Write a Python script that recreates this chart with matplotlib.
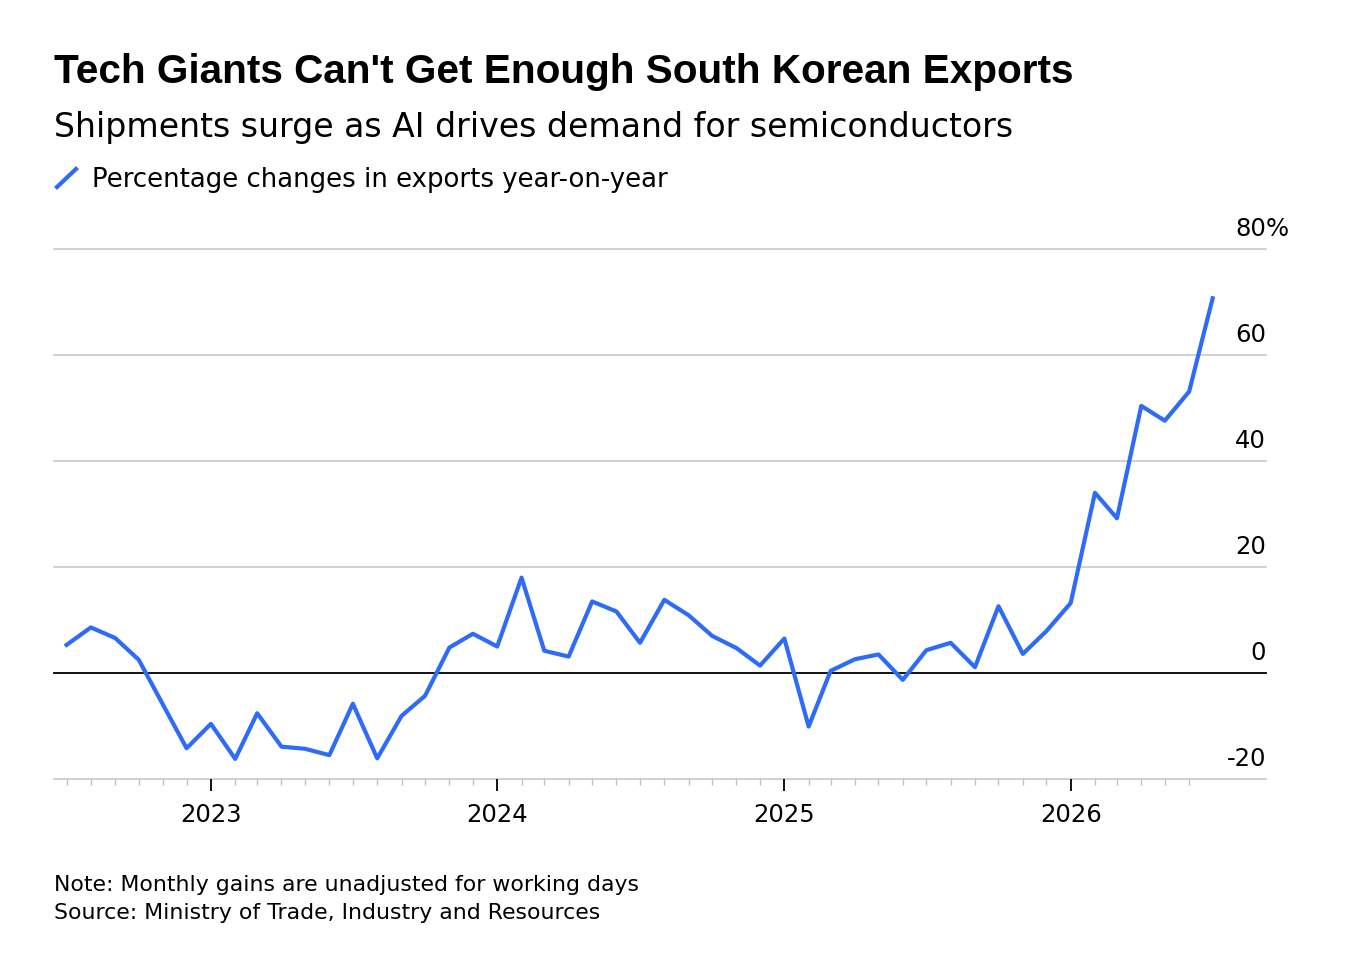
import matplotlib
matplotlib.use('Agg')
import matplotlib.pyplot as plt
import matplotlib.transforms as mtransforms
from matplotlib.lines import Line2D
import pandas as pd

# monthly export growth, % y/y
months = pd.date_range('2022-07-01', periods=49, freq='MS')
exports_yoy = [5.3, 8.6, 6.6, 2.5, -6.0, -14.2,
               -9.6, -16.2, -7.6, -13.9, -14.3, -15.5, -5.8, -16.1, -8.1, -4.3, 4.8, 7.4,
               5.0, 18.0, 4.2, 3.1, 13.5, 11.6, 5.7, 13.8, 10.9, 7.0, 4.7, 1.4,
               6.5, -10.1, 0.4, 2.6, 3.5, -1.3, 4.3, 5.7, 1.1, 12.6, 3.6, 7.9,
               13.2, 34.0, 29.2, 50.4, 47.6, 53.1, 70.7]

y_ticks = [-20, 0, 20, 40, 60, 80]
y_labels = ['-20', '0', '20', '40', '60', '80']
year_ticks = pd.to_datetime(['2023-01-01', '2024-01-01', '2025-01-01', '2026-01-01'])
year_labels = ['2023', '2024', '2025', '2026']

BLUE = '#2e6bf8'
W, H = 1348, 962

plt.rcParams['font.family'] = ['DejaVu Sans']

fig = plt.figure(figsize=(W / 100, H / 100), dpi=100)
ax = fig.add_axes([54 / W, 1 - 780 / H, 1212 / W, 530 / H])

ax.plot(months, exports_yoy, color=BLUE, lw=3.0, zorder=3)

for v in y_ticks:
    if v == 0:
        ax.axhline(v, color='black', lw=1.3, zorder=2, clip_on=False)
    else:
        ax.axhline(v, color='#c8c8c8', lw=1.2, zorder=1, clip_on=False)

ax.set_ylim(-20, 80)
ax.set_xlim(pd.Timestamp('2022-06-15'), pd.Timestamp('2026-09-07'))
for s in ax.spines.values():
    s.set_visible(False)
ax.set_yticks([])

ax.set_xticks(year_ticks, year_labels)
ax.set_xticks(months[:-1], minor=True)
ax.tick_params(axis='x', which='major', length=8.5, width=1.3, color='black',
               pad=8, labelsize=17.5)
ax.tick_params(axis='x', which='minor', length=4.3, width=1.0, color='#c0c0c0')

# y labels sit above their gridlines at the right end
trans = mtransforms.blended_transform_factory(ax.transAxes, ax.transData)
trans = mtransforms.offset_copy(trans, fig=fig, y=14, units='dots')
for v, lab in zip(y_ticks, y_labels):
    ax.text(1.0, v, lab, transform=trans, ha='right', va='baseline', fontsize=17.5)
ax.text(1.0, 80, '%', transform=trans, ha='left', va='baseline', fontsize=17.5)

# titles
fig.text(54 / W, 1 - 83 / H, "Tech Giants Can't Get Enough South Korean Exports",
         fontsize=29.2, fontweight='bold', va='baseline', family='Liberation Sans')
fig.text(54 / W, 1 - 137 / H, "Shipments surge as AI drives demand for semiconductors",
         fontsize=23.9, va='baseline')

# legend
fig.add_artist(Line2D([57 / W, 76 / W], [1 - 188 / H, 1 - 170 / H], color=BLUE, lw=3))
fig.text(92 / W, 1 - 187 / H, "Percentage changes in exports year-on-year",
         fontsize=18.7, va='baseline')

# notes
fig.text(54 / W, 1 - 891 / H, "Note: Monthly gains are unadjusted for working days",
         fontsize=15.8, va='baseline')
fig.text(54 / W, 1 - 919 / H, "Source: Ministry of Trade, Industry and Resources",
         fontsize=15.8, va='baseline')

fig.savefig('out.png', dpi=100)
